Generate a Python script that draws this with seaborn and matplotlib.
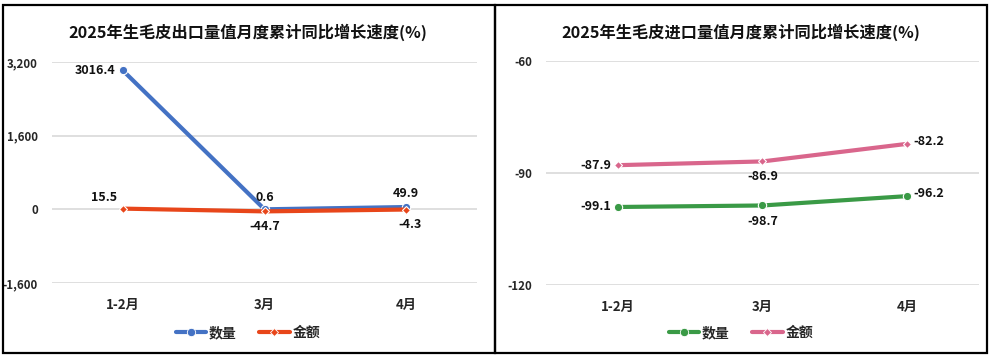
import matplotlib
matplotlib.use("Agg")
import matplotlib.pyplot as plt
import seaborn as sns
import pandas as pd
from matplotlib.patches import Rectangle
from matplotlib.lines import Line2D

months = ["1-2月", "3月", "4月"]
series_names = ["数量", "金额"]
export_qty = [3016.4, 0.6, 49.9]
export_val = [15.5, -44.7, -4.3]
import_qty = [-99.1, -98.7, -96.2]
import_val = [-87.9, -86.9, -82.2]
title_export = "2025年生毛皮出口量值月度累计同比增长速度(%)"
title_import = "2025年生毛皮进口量值月度累计同比增长速度(%)"
export_ticks = [-1600, 0, 1600, 3200]
import_ticks = [-120, -90, -60]

sns.set_theme(style="white")
plt.rcParams['font.family'] = ['Noto Sans CJK SC', 'DejaVu Sans']
plt.rcParams['font.weight'] = 'bold'

fig = plt.figure(figsize=(9.92, 3.58), dpi=100)
W, H = 992, 358

def frac_rect(x0, y0, x1, y1):
    return [x0 / W, 1 - y1 / H, (x1 - x0) / W, (y1 - y0) / H]

ax1 = fig.add_axes(frac_rect(52, 62, 477, 283))
ax2 = fig.add_axes(frac_rect(546, 61, 979, 285))

# panel borders
fig.patches.append(Rectangle((3 / W, 1 - 353 / H), (494.5 - 3) / W, (353 - 5) / H,
                             transform=fig.transFigure, fill=False, edgecolor="black", lw=1.6))
fig.patches.append(Rectangle((494.5 / W, 1 - 353 / H), (987 - 494.5) / W, (353 - 5) / H,
                             transform=fig.transFigure, fill=False, edgecolor="black", lw=1.6))

def build(q, v):
    return pd.DataFrame({
        "月份": months * 2,
        "值": list(q) + list(v),
        "指标": [series_names[0]] * 3 + [series_names[1]] * 3,
    })

def draw(ax, q, v, colors, markers, msizes, ticks, ylim, tickfmt, title, offsets, cx):
    df = build(q, v)
    sns.lineplot(data=df, x="月份", y="值", hue="指标", style="指标",
                 palette=colors, markers=markers, dashes=False, lw=3,
                 ax=ax, sort=False, legend=False, markeredgecolor="white",
                 markeredgewidth=0.8)
    for line, ms in zip(ax.lines, msizes):
        line.set_markersize(ms)
    ax.set_xlim(-0.5, 2.5)
    ax.set_ylim(*ylim)
    ax.set_yticks(ticks)
    ax.set_yticklabels([tickfmt(t) for t in ticks], fontsize=8.3, fontweight="bold")
    ax.set_xticks(range(3))
    ax.set_xticklabels(months, fontsize=9.5, fontweight="bold")
    ax.tick_params(axis="x", pad=11, length=0)
    ax.tick_params(axis="y", pad=10, length=0)
    ax.grid(axis="y", color="#D9D9D9", lw=1.2)
    ax.set_axisbelow(True)
    for s in ax.spines.values():
        s.set_visible(False)
    ax.set_xlabel("")
    ax.set_ylabel("")
    fig.text(cx / W, 1 - 32 / H, title, ha="center", va="center",
             fontsize=11.7, fontweight="bold", color="#111111")
    for vals, offs in zip([q, v], offsets):
        for i, (val, (dx, dy, ha, va)) in enumerate(zip(vals, offs)):
            ax.annotate(f"{val}", (i, val), xytext=(dx, dy), textcoords="offset points",
                        ha=ha, va=va, fontsize=9, fontweight="bold", color="#111111")
    handles = [Line2D([], [], color=colors[series_names[k]], lw=3, marker=markers[series_names[k]],
                      markersize=msizes[k], markeredgecolor="white", markeredgewidth=0.6)
               for k in range(2)]
    fig.legend(handles, series_names, loc="center", bbox_to_anchor=(cx / W, 1 - 333 / H),
               ncol=2, frameon=False, handlelength=2.2, columnspacing=1.6,
               handletextpad=0.2, prop={"weight": "bold", "size": 10})

draw(ax1, export_qty, export_val,
     {"数量": "#4472C4", "金额": "#E8461A"}, {"数量": "o", "金额": "D"}, [6, 4.5],
     export_ticks, (-1600, 3200), lambda t: f"{t:,}", title_export,
     [[(-5, 0, "right", "center"), (0, 4, "center", "bottom"), (0, 5, "center", "bottom")],
      [(-4, 3, "right", "bottom"), (0, -6, "center", "top"), (3, -6, "center", "top")]],
     248)

draw(ax2, import_qty, import_val,
     {"数量": "#3A9A46", "金额": "#D9668C"}, {"数量": "o", "金额": "D"}, [6, 4.5],
     import_ticks, (-120, -60), lambda t: f"{t}", title_import,
     [[(-5, 0, "right", "center"), (0, -7, "center", "top"), (5, 2, "left", "center")],
      [(-5, 0, "right", "center"), (0, -6, "center", "top"), (5, 2, "left", "center")]],
     741)

fig.savefig("out.png", dpi=100, facecolor="white")
